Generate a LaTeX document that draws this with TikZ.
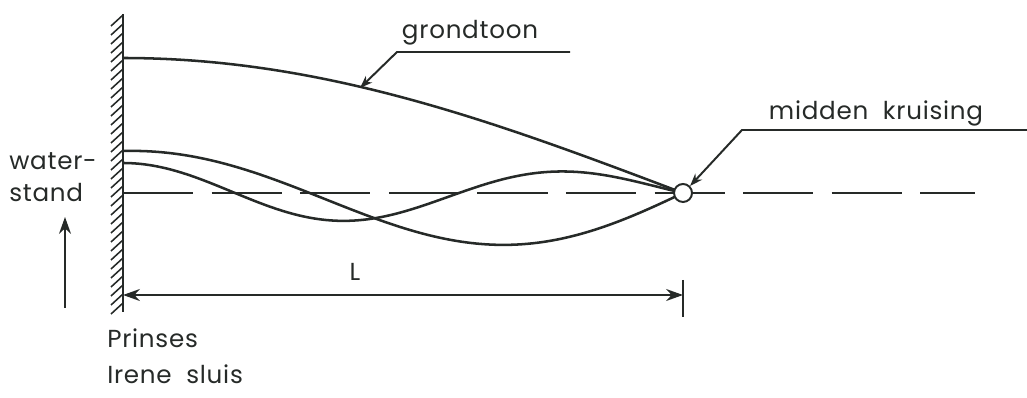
\documentclass[tikz,border=0pt]{standalone}
\usepackage{fontspec}
\setmainfont{Poppins}[LetterSpace=3, WordSpace=2]
\usepackage{tikz}
\usetikzlibrary{arrows.meta}
\definecolor{inkdark}{RGB}{38,42,40}

\begin{document}
\begin{tikzpicture}[x=0.025cm, y=-0.025cm,
  curve/.style={inkdark, line width=1.8pt},
  txt/.style={inkdark, font=\fontsize{17.5}{22.7}\selectfont, inner sep=0pt},
  leader/.style={inkdark, line width=1.4pt, -{Stealth[length=9pt,width=6.5pt]}},
  dim/.style={inkdark, line width=1.4pt, {Stealth[length=12pt,width=8.5pt]}-{Stealth[length=12pt,width=8.5pt]}}]
% frame
\useasboundingbox (0,0) rectangle (1027,398);

% wall with hatching
\coordinate (walltop) at (123,14);
\coordinate (wallbot) at (123,312);
\draw[curve] (walltop) -- (wallbot);
\foreach \y in {26,35,...,316}
  \draw[inkdark, line width=1.1pt] (111,\y) -- (123,\y-11);

% still water level
\coordinate (lvlstart) at (123,193);
\coordinate (lvlend) at (975,193);
\draw[inkdark, line width=1.4pt, dash pattern=on 50pt off 13pt] (lvlstart) -- (lvlend);

% grondtoon
\draw[curve] plot[domain=123:683, samples=80] (\x, {193-135*cos(90*((\x-123)/560))});

% overtones
\draw[curve] plot[domain=123:683, samples=120]
  (\x, {193-42*cos(270*((\x-123)/560))*(1+0.35*((\x-123)/560))});
\draw[curve] plot[domain=123:683, samples=150]
  (\x, {193-30*cos(450*((\x-123)/560))*(1-0.45*((\x-123)/560)^2)});

% crossing point
\node[circle, draw=inkdark, fill=white, line width=1.4pt, minimum size=0.45cm, inner sep=0pt] (kruis) at (683,193) {};

% label grondtoon
\node[txt] (grondlbl) at (470,33) {grondtoon};
\coordinate (gknik) at (397,52);
\coordinate (gend) at (570,52);
\coordinate (gtip) at (360,88);
\draw[leader] (gend) -- (gknik) -- (gtip);

% label midden kruising
\node[txt] (kruislbl) at (876,113) {midden kruising};
\coordinate (kknik) at (742,130);
\coordinate (kend) at (1027,130);
\draw[leader] (kend) -- (kknik) -- (kruis.north east);

% length L
\coordinate (Lstart) at (123,295);
\coordinate (Lend) at (683,295);
\coordinate (ticktop) at (683,280);
\coordinate (tickbot) at (683,317);
\draw[dim] (Lstart) -- (Lend);
\draw[inkdark, line width=1.4pt] (ticktop) -- (tickbot);
\node[txt] (Llbl) at (355,272) {L};

% waterstand
\node[txt, align=left, anchor=west] (wslbl) at (9,177) {water-\\stand};
\coordinate (upfoot) at (65,308);
\coordinate (uptip) at (65,217);
\draw[inkdark, line width=1.4pt, -{Stealth[length=12pt,width=8.5pt]}] (upfoot) -- (uptip);

% sluis
\node[txt, anchor=west] (sluis1) at (107,338) {Prinses};
\node[txt, anchor=west] (sluis2) at (107,374) {Irene sluis};
\end{tikzpicture}
\end{document}
